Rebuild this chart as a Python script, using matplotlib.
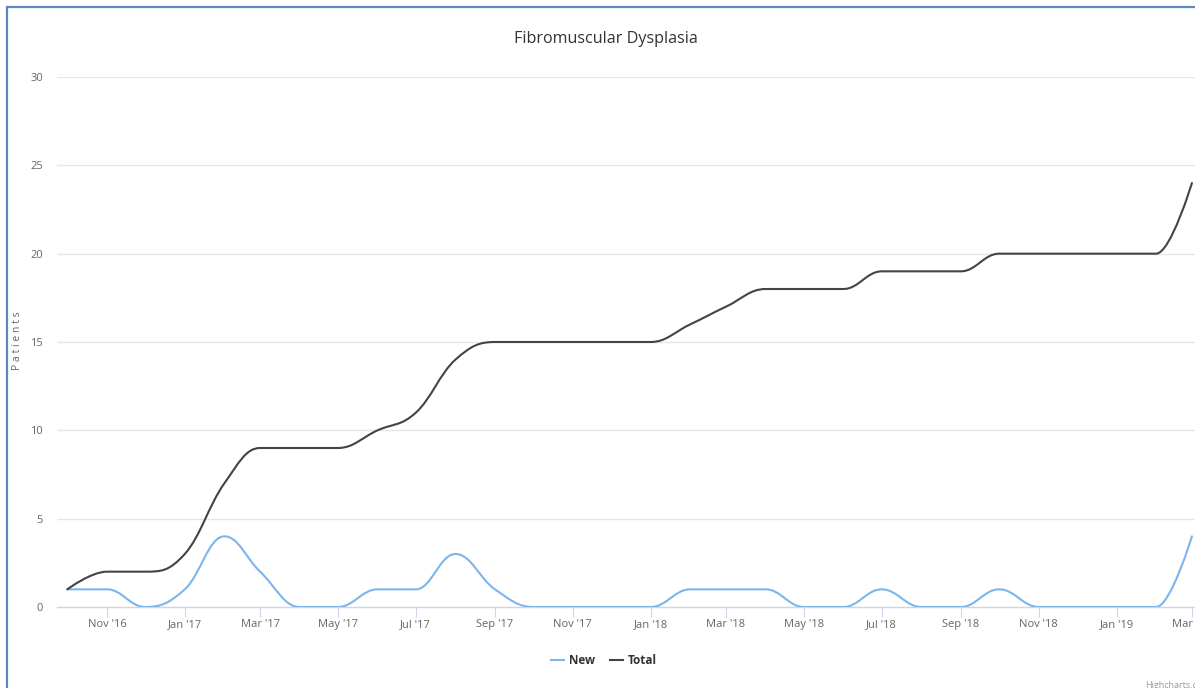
import numpy as np
import pandas as pd
import matplotlib
matplotlib.use('Agg')
import matplotlib.pyplot as plt
import matplotlib.dates as mdates
from matplotlib.path import Path
from matplotlib.patches import PathPatch, Rectangle
from matplotlib.lines import Line2D

# ── Data ──────────────────────────────────────────────────────────────────────
months = ['2016-10', '2016-11', '2016-12', '2017-01', '2017-02', '2017-03',
          '2017-04', '2017-05', '2017-06', '2017-07', '2017-08', '2017-09',
          '2017-10', '2017-11', '2017-12', '2018-01', '2018-02', '2018-03',
          '2018-04', '2018-05', '2018-06', '2018-07', '2018-08', '2018-09',
          '2018-10', '2018-11', '2018-12', '2019-01', '2019-02', '2019-03']
new_patients = [1, 1, 0, 1, 4, 2, 0, 0, 1, 1, 3, 1, 0, 0, 0,
                0, 1, 1, 1, 0, 0, 1, 0, 0, 1, 0, 0, 0, 0, 4]
total_patients = [1, 2, 2, 3, 7, 9, 9, 9, 10, 11, 14, 15, 15, 15, 15,
                  15, 16, 17, 18, 18, 18, 19, 19, 19, 20, 20, 20, 20, 20, 24]

series = [('New', new_patients, '#7cb5ec'),
          ('Total', total_patients, '#434348')]

W, H = 1195, 688
FONT = 'Open Sans'


def hc_spline(xs, ys, smoothing=1.5):
    """Highcharts-style spline as a cubic Bezier path."""
    denom = smoothing + 1
    n = len(xs)
    verts = [(xs[0], ys[0])]
    codes = [Path.MOVETO]
    right_prev = None
    for i in range(1, n):
        px, py = xs[i], ys[i]
        lx, ly = xs[i - 1], ys[i - 1]
        left, right = (px, py), None
        if i < n - 1:
            nx, ny = xs[i + 1], ys[i + 1]
            lcx = (smoothing * px + lx) / denom
            lcy = (smoothing * py + ly) / denom
            rcx = (smoothing * px + nx) / denom
            rcy = (smoothing * py + ny) / denom
            corr = 0.0
            if rcx != lcx:
                corr = (rcy - lcy) * (rcx - px) / (rcx - lcx) + py - rcy
            lcy += corr
            rcy += corr
            if lcy > ly and lcy > py:
                lcy = max(ly, py); rcy = 2 * py - lcy
            elif lcy < ly and lcy < py:
                lcy = min(ly, py); rcy = 2 * py - lcy
            if rcy > ny and rcy > py:
                rcy = max(ny, py); lcy = 2 * py - rcy
            elif rcy < ny and rcy < py:
                rcy = min(ny, py); lcy = 2 * py - rcy
            left, right = (lcx, lcy), (rcx, rcy)
        c1 = right_prev if right_prev is not None else (lx, ly)
        verts += [c1, left, (px, py)]
        codes += [Path.CURVE4] * 3
        right_prev = right
    return Path(verts, codes)


# ── Figure ────────────────────────────────────────────────────────────────────
fig = plt.figure(figsize=(W / 100, H / 100), dpi=100)
ax = fig.add_axes([57 / W, (H - 607) / H, (W - 57) / W, 530 / H])

dates = pd.to_datetime([m + '-01' for m in months])
xnum = mdates.date2num(dates)

for name, vals, color in series:
    path = hc_spline(list(xnum), [float(v) for v in vals])
    ax.add_patch(PathPatch(path, fill=False, edgecolor=color, lw=1.5,
                           capstyle='round', joinstyle='round', zorder=3))

ax.set_xlim(xnum[0] - 8.1, xnum[-1] + 2.4)
ax.set_ylim(0, 30)

# y axis
ax.set_yticks(np.arange(0, 31, 5))
ax.tick_params(axis='y', length=0, pad=10, labelsize=8, labelcolor='#666666')
for y in range(5, 31, 5):
    ax.axhline(y, color='#e6e6e6', lw=1, zorder=1)
fig.text(18 / W, 1 - 341 / H, 'P a t i e n t s', rotation=90, ha='center',
         va='center', fontsize=7.5, color='#666666', family=FONT)

# x axis
ax.xaxis.set_major_locator(mdates.MonthLocator(bymonth=[1, 3, 5, 7, 9, 11]))
ax.xaxis.set_major_formatter(mdates.DateFormatter("%b '%y"))
ax.tick_params(axis='x', length=7.2, width=0.8, color='#ccd6eb', pad=1.5,
               labelsize=8, labelcolor='#666666')

for s in ['top', 'right', 'left']:
    ax.spines[s].set_visible(False)
ax.spines['bottom'].set_color('#ccd6eb')
ax.spines['bottom'].set_linewidth(1)
for lab in ax.get_xticklabels() + ax.get_yticklabels():
    lab.set_family(FONT)

# title
fig.text(606 / W, 1 - 39 / H, 'Fibromuscular Dysplasia', ha='center',
         va='center', fontsize=11.6, color='#333333', family=FONT)

# legend
handles = [Line2D([], [], color=c, lw=1.5) for _, _, c in series]
fig.legend(handles, [n for n, _, _ in series], loc='center',
           bbox_to_anchor=(604 / W, 1 - 661 / H), ncol=2, frameon=False,
           handlelength=1.1, handletextpad=0.4, columnspacing=1.3,
           prop={'family': FONT, 'weight': 'bold', 'size': 8.5},
           labelcolor='#333333')

# credits (cut off at the right edge like the reference)
fig.text(1145 / W, 1 - 685 / H, 'Highcharts.com', ha='left', va='center',
         fontsize=6.5, color='#999999', family=FONT)

# outer border (only top and left visible in the crop)
fig.patches.append(Rectangle((7 / W, -0.1), 1.2, 1 - 7 / H + 0.1,
                             transform=fig.transFigure, fill=False,
                             edgecolor='#5b87c5', lw=1.6, zorder=10))

fig.savefig('out.png', dpi=100)
